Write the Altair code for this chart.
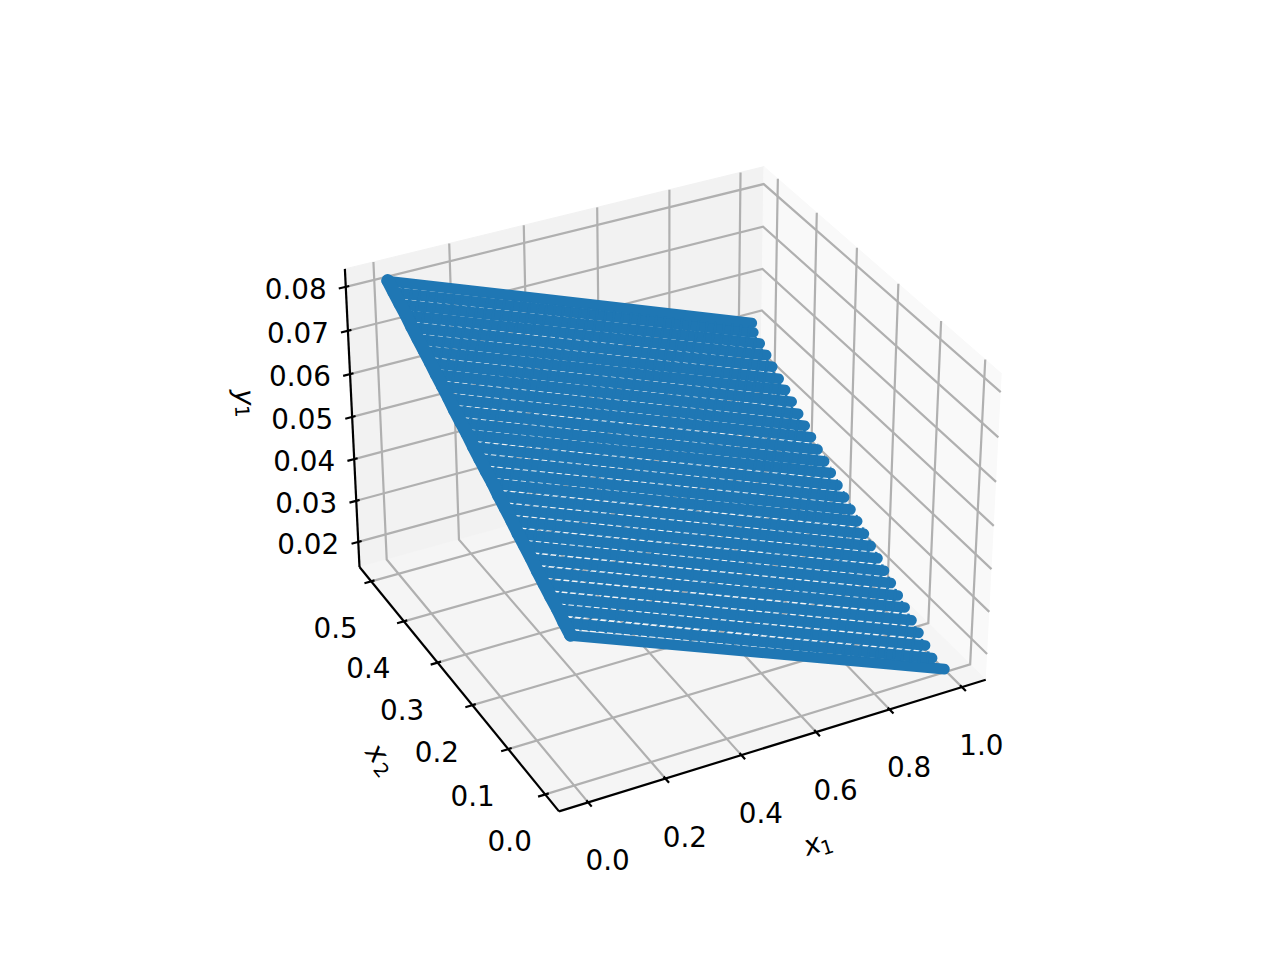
import numpy as np
import pandas as pd
import altair as alt

# ---------- values ----------
x1_ticks = [0.0, 0.2, 0.4, 0.6, 0.8, 1.0]
x2_ticks = [0.0, 0.1, 0.2, 0.3, 0.4, 0.5]
y1_ticks = [0.02, 0.03, 0.04, 0.05, 0.06, 0.07, 0.08]

row_x2 = [0.0, 0.0172, 0.0345, 0.0517, 0.0690, 0.0862, 0.1034, 0.1207, 0.1379, 0.1552,
          0.1724, 0.1897, 0.2069, 0.2241, 0.2414, 0.2586, 0.2759, 0.2931, 0.3103, 0.3276,
          0.3448, 0.3621, 0.3793, 0.3966, 0.4138, 0.4310, 0.4483, 0.4655, 0.4828, 0.5]
row_x1_start = [-0.006, -0.006, -0.005, -0.005, -0.005, -0.005, -0.004, -0.004, -0.004, -0.003,
                -0.003, -0.003, -0.002, -0.002, -0.002, -0.002, -0.001, -0.001, -0.001, 0.0,
                0.0, 0.0, 0.001, 0.001, 0.001, 0.001, 0.002, 0.002, 0.002, 0.002]
row_x1_end = [0.994, 0.979, 0.979, 0.980, 0.980, 0.980, 0.980, 0.980, 0.980, 0.981,
              0.981, 0.981, 0.981, 0.981, 0.982, 0.982, 0.982, 0.982, 0.982, 0.982,
              0.983, 0.983, 0.983, 0.983, 0.983, 0.983, 0.984, 0.984, 0.984, 0.998]
row_y1_start = [0.0485, 0.0497, 0.0509, 0.0520, 0.0532, 0.0544, 0.0556, 0.0568, 0.0579, 0.0591,
                0.0603, 0.0615, 0.0627, 0.0638, 0.0650, 0.0662, 0.0674, 0.0685, 0.0697, 0.0709,
                0.0721, 0.0733, 0.0744, 0.0756, 0.0768, 0.0780, 0.0792, 0.0803, 0.0815, 0.0827]
row_y1_end = [0.0146, 0.0159, 0.0172, 0.0185, 0.0198, 0.0212, 0.0224, 0.0237, 0.0250, 0.0263,
              0.0276, 0.0289, 0.0303, 0.0315, 0.0328, 0.0341, 0.0355, 0.0367, 0.0380, 0.0394,
              0.0406, 0.0419, 0.0433, 0.0446, 0.0458, 0.0472, 0.0485, 0.0498, 0.0510, 0.0515]

# ---------- camera (the view of a 3D box on a flat chart) ----------
ELEV, AZIM, DIST = np.radians(32.2), np.radians(-117.3), 10.0
BOX = np.array([4, 4, 3]) * 1.8294640721620434 / np.linalg.norm([4, 4, 3])
LIM = {"a": (-0.0517, 1.0437), "b": (-0.025, 0.525), "c": (0.01523, 0.08263)}
CX, CY, SCALE = 666.0, 474.8, 3995.7
E = 1 / 48

W_ = np.array([np.cos(ELEV) * np.cos(AZIM), np.cos(ELEV) * np.sin(AZIM), np.sin(ELEV)])
U_ = np.array([-np.sin(AZIM), np.cos(AZIM), 0.0])
V_ = np.cross(W_, U_)


def norm(v, k):
    return (np.asarray(v, float) - LIM[k][0]) / (LIM[k][1] - LIM[k][0])


def project(na, nb, nc):
    q = (np.array([na, nb, nc], float).T - 0.5) * BOX
    d = DIST - q @ W_
    return CX + SCALE * (q @ U_) / d, CY - SCALE * (q @ V_) / d


def path_rows(name, pts):
    px, py = project(*zip(*pts))
    return [{"id": name, "seq": i, "px": a, "py": b} for i, (a, b) in enumerate(zip(px, py))]


LO, HI = -E, 1 + E

# ---------- planes, grid, axes ----------
panes = {
    "back": ([(LO, HI, LO), (HI, HI, LO), (HI, HI, HI), (LO, HI, HI)], "#f2f2f2"),
    "right": ([(HI, LO, LO), (HI, HI, LO), (HI, HI, HI), (HI, LO, HI)], "#f9f9f9"),
    "floor": ([(LO, LO, LO), (HI, LO, LO), (HI, HI, LO), (LO, HI, LO)], "#f5f5f5"),
}

grid = []
for t in x1_ticks:
    n = float(norm(t, "a"))
    grid += path_rows(f"a{t}", [(n, LO, LO), (n, HI, LO), (n, HI, HI)])
for t in x2_ticks:
    n = float(norm(t, "b"))
    grid += path_rows(f"b{t}", [(LO, n, LO), (HI, n, LO), (HI, n, HI)])
for t in y1_ticks:
    n = float(norm(t, "c"))
    grid += path_rows(f"c{t}", [(LO, HI, n), (HI, HI, n), (HI, LO, n)])

axes = path_rows("x1", [(LO, LO, LO), (HI, LO, LO)])
axes += path_rows("x2", [(LO, LO, LO), (LO, HI, LO)])
axes += path_rows("y1", [(LO, HI, LO), (LO, HI, HI)])

OUT, INN = 1 / 60, 1 / 120
labels = []
for t in x1_ticks:
    n = float(norm(t, "a"))
    axes += path_rows(f"ta{t}", [(n, LO - OUT, LO), (n, LO + INN, LO)])
    px, py = project([n], [LO], [LO])
    labels.append({"txt": f"{t:.1f}", "px": px[0] + 19.5, "py": py[0] + 60})
for t in x2_ticks:
    n = float(norm(t, "b"))
    axes += path_rows(f"tb{t}", [(LO - OUT, n, LO), (LO + INN, n, LO)])
    px, py = project([LO], [n], [LO])
    labels.append({"txt": f"{t:.1f}", "px": px[0] - 35.5, "py": py[0] + 49})
for t in y1_ticks:
    n = float(norm(t, "c"))
    axes += path_rows(f"tc{t}", [(LO - OUT, HI, n), (LO + INN, HI, n)])
    px, py = project([LO], [HI], [n])
    labels.append({"txt": f"{t:.2f}", "px": px[0] - 50, "py": py[0] + 4})

# ---------- the surface: one stroke per row of points ----------
rows = []
for i, (b, a0, a1, c0, c1) in enumerate(zip(row_x2, row_x1_start, row_x1_end, row_y1_start, row_y1_end)):
    nb = float(norm(b, "b"))
    rows += path_rows(i, [(float(norm(a0, "a")), nb, float(norm(c0, "c"))),
                          (float(norm(a1, "a")), nb, float(norm(c1, "c")))])
inner_rows = [r for r in rows if 0 < r["id"] < len(row_x2) - 1]

# the dense left edge of the surface, running through the first points of the rows
edge_shift = 0.003
edge = path_rows("edge", [
    (float(norm(a0 + edge_shift, "a")), float(norm(b, "b")), float(norm(c0, "c")))
    for a0, b, c0 in zip(row_x1_start, row_x2, row_y1_start)
])
for i, r in enumerate(edge):
    r["seq"] = i

# ---------- axis titles ----------
mx1 = project([0.5], [LO], [LO])
mx2 = project([LO], [0.5], [LO])
mz = project([LO], [HI], [0.5])
titles = [
    {"txt": "x", "px": mx1[0][0] + 35, "py": mx1[1][0] + 102, "a": 342.5, "fs": 27.8, "st": "italic"},
    {"txt": "1", "px": mx1[0][0] + 50, "py": mx1[1][0] + 104, "a": 342.5, "fs": 19.4, "st": "normal"},
    {"txt": "x", "px": mx2[0][0] - 79, "py": mx2[1][0] + 70, "a": 51, "fs": 27.8, "st": "italic"},
    {"txt": "2", "px": mx2[0][0] - 74, "py": mx2[1][0] + 87, "a": 51, "fs": 19.4, "st": "normal"},
    {"txt": "y", "px": mz[0][0] - 109, "py": mz[1][0] - 24, "a": 87, "fs": 27.8, "st": "italic"},
    {"txt": "1", "px": mz[0][0] - 111, "py": mz[1][0] - 10, "a": 87, "fs": 19.4, "st": "normal"},
]

# ---------- chart ----------
W, H = 1260, 940
X = alt.X("px:Q", axis=None, scale=alt.Scale(domain=[8, 8 + W], nice=False, zero=False))
Y = alt.Y("py:Q", axis=None, scale=alt.Scale(domain=[8 + H, 8], nice=False, zero=False))
enc = dict(x=X, y=Y, order=alt.Order("seq:Q"), detail="id:N")

layers = []
for name, (corners, col) in panes.items():
    layers.append(alt.Chart(pd.DataFrame(path_rows(name, corners)))
                  .mark_line(fill=col, stroke=col, strokeWidth=1, clip=False)
                  .encode(**enc))
layers.append(alt.Chart(pd.DataFrame(grid)).mark_line(color="#b0b0b0", strokeWidth=2.2).encode(**enc))
layers.append(alt.Chart(pd.DataFrame(axes)).mark_line(color="#000000", strokeWidth=2.2).encode(**enc))
layers.append(alt.Chart(pd.DataFrame(rows))
              .mark_line(color="#1f77b4", strokeWidth=10.6, strokeCap="round").encode(**enc))
layers.append(alt.Chart(pd.DataFrame(inner_rows))
              .mark_line(color="#1f77b4", strokeWidth=12.5, strokeCap="butt", strokeDash=[2.5, 6])
              .encode(**enc))
layers.append(alt.Chart(pd.DataFrame(edge))
              .mark_line(color="#1f77b4", strokeWidth=13.0, strokeCap="round", strokeJoin="round").encode(**enc))
layers.append(alt.Chart(pd.DataFrame(labels))
              .mark_text(font="DejaVu Sans", fontSize=27.8, color="#000000", align="center", baseline="middle")
              .encode(x=X, y=Y, text="txt:N"))
for t in titles:
    layers.append(alt.Chart(pd.DataFrame([t]))
                  .mark_text(font="DejaVu Sans", fontSize=t["fs"], fontStyle=t["st"], angle=t["a"],
                             color="#000000", align="center", baseline="middle")
                  .encode(x=X, y=Y, text="txt:N"))

chart = alt.layer(*layers).properties(
    width=W, height=H, padding=0, autosize=alt.AutoSizeParams(type="none")
).configure_view(stroke=None)

chart.save("out.html", embed_options={"renderer": "svg", "actions": False})
